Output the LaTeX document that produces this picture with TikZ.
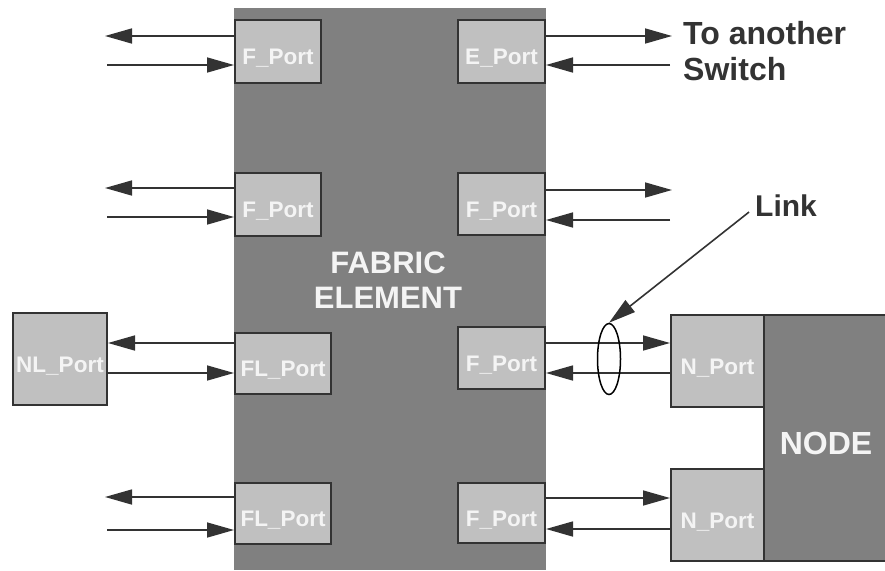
\documentclass[tikz,border=0pt]{standalone}
\usepackage{fontspec}
\setmainfont{Liberation Sans}
\usepackage{xcolor}
\usetikzlibrary{shapes.geometric,arrows.meta,positioning}

\definecolor{fabricgray}{HTML}{808080}
\definecolor{portgray}{HTML}{C0C0C0}
\definecolor{linedark}{HTML}{333333}
\definecolor{labelwhite}{HTML}{F4F4F4}

\begin{document}
\begin{tikzpicture}[x=1pt, y=-1pt,
  port/.style={draw=linedark, line width=2pt, fill=portgray, anchor=north west, inner sep=0pt,
    minimum width=87, minimum height=62, text=labelwhite,
    font=\fontsize{22.5}{26}\selectfont\bfseries, text height=26pt, text depth=0pt},
  msg/.style={-{Triangle[length=27pt,width=15pt]}, line width=1.6pt, draw=linedark, color=linedark},
  lbl/.style={text=linedark, inner sep=0pt, font=\fontsize{30}{35}\selectfont\bfseries}
]
\useasboundingbox (0,0) rectangle (885,570);

% Fabric element
\node[fill=fabricgray, anchor=north west, inner sep=0pt, minimum width=312, minimum height=562] (fabric) at (234,8) {};
\node[lbl, text=labelwhite, align=center, anchor=north, font=\fontsize{31}{35}\selectfont\bfseries] (fabtext) at (388,252) {FABRIC\\ELEMENT};

% Ports on the fabric, left side
\node[port, minimum width=86, minimum height=63] (fpA) at (234,19) {F\_Port};
\node[port, minimum width=86, minimum height=63] (fpB) at (234,172) {F\_Port};
\node[port, minimum width=96, minimum height=61] (flpA) at (234,332) {FL\_Port};
\node[port, minimum width=96, minimum height=61] (flpB) at (234,482) {FL\_Port};

% Ports on the fabric, right side
\node[port, minimum height=63] (epA) at (457,19) {E\_Port};
\node[port] (fpC) at (457,172) {F\_Port};
\node[port] (fpD) at (457,326) {F\_Port};
\node[port, minimum height=60] (fpE) at (457,482) {F\_Port};

% Loop port and node
\node[port, minimum width=94, minimum height=92] (nlp) at (12,312) {NL\_Port};
\node[draw=linedark, line width=2pt, fill=fabricgray, anchor=north west, inner sep=0pt,
  minimum width=124, minimum height=246, text=labelwhite,
  font=\fontsize{32}{35}\selectfont\bfseries, text height=32pt, text depth=0pt] (nodebox) at (763,314) {NODE};
\node[port, minimum width=93, minimum height=92] (npA) at (670,314) {N\_Port};
\node[port, minimum width=93, minimum height=92] (npB) at (670,468) {N\_Port};

% Free ends
\coordinate (lo1) at (105,36);  \coordinate (li1) at (107,65);
\coordinate (lo2) at (105,188); \coordinate (li2) at (107,217);
\coordinate (lo4) at (105,497); \coordinate (li4) at (107,530);
\coordinate (ro1) at (672,36);  \coordinate (ri1) at (670,65);
\coordinate (ro2) at (672,190); \coordinate (ri2) at (670,220);

% Left links
\draw[msg] (fpA.west |- lo1) -- (lo1);
\draw[msg] (li1) -- (fpA.west |- li1);
\draw[msg] (fpB.west |- lo2) -- (lo2);
\draw[msg] (li2) -- (fpB.west |- li2);
\draw[msg] (flpA.west |- 0,343) -- (nlp.east |- 0,343);
\draw[msg] (nlp.east |- 0,373) -- (flpA.west |- 0,373);
\draw[msg] (flpB.west |- lo4) -- (lo4);
\draw[msg] (li4) -- (flpB.west |- li4);

% Right links
\draw[msg] (epA.east |- ro1) -- (ro1);
\draw[msg] (ri1) -- (epA.east |- ri1);
\draw[msg] (fpC.east |- ro2) -- (ro2);
\draw[msg] (ri2) -- (fpC.east |- ri2);
\draw[msg] (fpD.east |- 0,343) -- (npA.west |- 0,343);
\draw[msg] (npA.west |- 0,373) -- (fpD.east |- 0,373);
\draw[msg] (fpE.east |- 0,498) -- (npB.west |- 0,498);
\draw[msg] (npB.west |- 0,529) -- (fpE.east |- 0,529);

% Labels
\node[lbl, align=left, anchor=north west, font=\fontsize{32}{36}\selectfont\bfseries] (swtext) at (683,21) {To another\\Switch};
\node[draw=black, ellipse, line width=1.5pt, inner sep=0pt, minimum width=23, minimum height=71] (link) at (609,359) {};
\node[lbl, anchor=north west] (linktext) at (755,195) {Link};
\draw[msg] ([xshift=-6pt,yshift=-6pt]linktext.west) -- (link.north);
\end{tikzpicture}
\end{document}
